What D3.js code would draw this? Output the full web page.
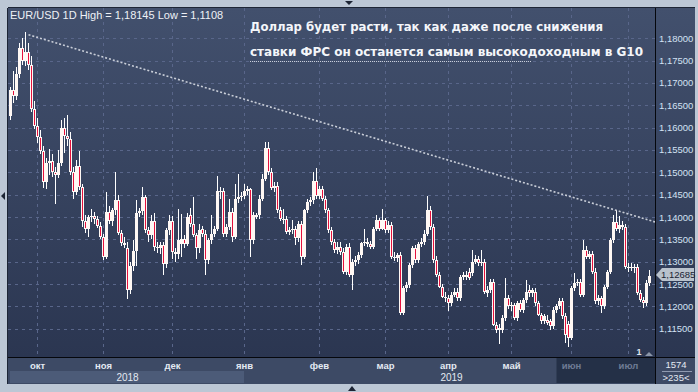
<!DOCTYPE html>
<html>
<head>
<meta charset="utf-8">
<script src="https://cdn.jsdelivr.net/npm/d3@7"></script>
<style>
  body { margin: 0; background: #bcc7d5; overflow: hidden; }
  svg { display: block; }
</style>
</head>
<body>
<div id="chart"></div>
<script>
/************************************ Data ***********************************/
// daily EUR/USD candles, [open, high, low, close]
var candles = [
[1.1626,1.1692,1.1618,1.1685],[1.1685,1.1726,1.1655,1.1670],[1.1670,1.1735,1.1662,1.1720],[1.1720,1.1790,1.1712,1.1778],
[1.1778,1.1800,1.1740,1.1750],[1.1750,1.18145,1.1738,1.1770],[1.1770,1.1790,1.1730,1.1741],[1.1741,1.1760,1.1636,1.1641],
[1.1641,1.1660,1.1596,1.1604],[1.1604,1.1622,1.1565,1.1578],[1.1578,1.1595,1.1540,1.1548],[1.1548,1.1560,1.1465,1.1478],
[1.1478,1.1532,1.1462,1.1520],[1.1520,1.1552,1.1495,1.1526],[1.1526,1.1540,1.1490,1.1500],[1.1500,1.1512,1.1430,1.1495],
[1.1495,1.1550,1.1488,1.1522],[1.1522,1.1618,1.1515,1.1600],[1.1600,1.1622,1.1544,1.1582],[1.1582,1.1628,1.1560,1.1574],
[1.1574,1.1590,1.1495,1.1500],[1.1500,1.1512,1.1440,1.1455],[1.1455,1.1528,1.1450,1.1515],[1.1515,1.1548,1.1460,1.1468],
[1.1468,1.1475,1.1378,1.1392],[1.1392,1.1405,1.1365,1.1374],[1.1374,1.1405,1.1355,1.1400],[1.1400,1.1418,1.1388,1.1403],
[1.1403,1.1412,1.1385,1.1396],[1.1396,1.1402,1.1375,1.1380],[1.1380,1.1388,1.1350,1.1355],[1.1355,1.1362,1.1303,1.1310],
[1.1310,1.1456,1.1305,1.1412],[1.1412,1.1425,1.1385,1.1390],[1.1390,1.1420,1.1380,1.1415],[1.1415,1.1500,1.1405,1.1437],
[1.1437,1.1450,1.1360,1.1365],[1.1365,1.1372,1.1335,1.1342],[1.1342,1.1355,1.1330,1.1338],[1.1330,1.1345,1.1216,1.1237],
[1.1237,1.1300,1.1228,1.1290],[1.1290,1.1348,1.1280,1.1325],[1.1325,1.1437,1.1290,1.1410],[1.1410,1.1420,1.1400,1.1413],
[1.1413,1.1467,1.1405,1.1444],[1.1444,1.1450,1.1365,1.1370],[1.1370,1.1378,1.1345,1.1360],[1.1360,1.1405,1.1350,1.1392],
[1.1392,1.1410,1.1325,1.1333],[1.1333,1.1345,1.1320,1.1330],[1.1330,1.1345,1.1318,1.1337],[1.1337,1.1345,1.1270,1.1294],
[1.1294,1.1375,1.1285,1.1370],[1.1370,1.1404,1.1360,1.1392],[1.1392,1.1402,1.1307,1.1322],[1.1322,1.1330,1.1300,1.1318],
[1.1318,1.1418,1.1305,1.1348],[1.1340,1.1407,1.1311,1.1350],[1.1350,1.1360,1.1330,1.1340],[1.1340,1.1408,1.1335,1.1400],
[1.1405,1.1420,1.1378,1.1385],[1.1385,1.1444,1.1355,1.1359],[1.1359,1.1365,1.1307,1.1330],[1.1330,1.1385,1.1320,1.1370],
[1.1374,1.1380,1.1355,1.1363],[1.1363,1.1370,1.1270,1.1304],[1.1304,1.1352,1.1295,1.1348],[1.1348,1.1404,1.1340,1.1363],
[1.1363,1.1380,1.1355,1.1374],[1.1374,1.1491,1.1368,1.1459],[1.1455,1.1468,1.1440,1.1459],[1.1459,1.1466,1.1355,1.1362],
[1.1362,1.1385,1.1355,1.1378],[1.1378,1.1440,1.1370,1.1411],[1.1411,1.1420,1.1344,1.1355],[1.1355,1.1474,1.1350,1.1440],
[1.1440,1.1496,1.1432,1.1444],[1.1444,1.1455,1.1435,1.1448],[1.1448,1.1474,1.1440,1.1459],[1.1459,1.1470,1.1450,1.1462],
[1.1462,1.1466,1.1311,1.1348],[1.1348,1.1412,1.1340,1.1404],[1.1404,1.1410,1.1395,1.1400],[1.1404,1.1450,1.1395,1.1440],
[1.1440,1.1496,1.1435,1.1485],[1.1485,1.1567,1.1480,1.1555],[1.1555,1.1569,1.1495,1.1500],[1.1500,1.1510,1.1460,1.1466],
[1.1466,1.1478,1.1455,1.1470],[1.1470,1.1478,1.1410,1.1415],[1.1415,1.1422,1.1390,1.1396],[1.1393,1.1418,1.1385,1.1396],
[1.1396,1.1402,1.1362,1.1367],[1.1367,1.1378,1.1360,1.1370],[1.1370,1.1393,1.1362,1.1374],[1.1374,1.1380,1.1337,1.1352],
[1.1352,1.1392,1.1345,1.1385],[1.1385,1.1392,1.1292,1.1311],[1.1311,1.1418,1.1305,1.1415],[1.1415,1.1440,1.1410,1.1433],
[1.1433,1.1445,1.1425,1.1437],[1.1437,1.1500,1.1430,1.1481],[1.1481,1.1509,1.1440,1.1448],[1.1448,1.1470,1.1440,1.1463],
[1.1463,1.1470,1.1435,1.1441],[1.1441,1.1448,1.1410,1.1415],[1.1415,1.1420,1.1365,1.1370],[1.1370,1.1378,1.1338,1.1344],
[1.1344,1.1350,1.1320,1.1326],[1.1326,1.1345,1.1318,1.1333],[1.1333,1.1345,1.1315,1.1322],[1.1322,1.1330,1.1272,1.1278],
[1.1278,1.1340,1.1270,1.1333],[1.1333,1.1341,1.1265,1.1270],[1.1270,1.1305,1.1237,1.1300],[1.1300,1.1312,1.1290,1.1304],
[1.1304,1.1322,1.1295,1.1315],[1.1315,1.1345,1.1308,1.1341],[1.1341,1.1374,1.1335,1.1344],[1.1344,1.1352,1.1332,1.1340],
[1.1340,1.1346,1.1328,1.1333],[1.1333,1.1378,1.1328,1.1374],[1.1374,1.1404,1.1368,1.1393],[1.1393,1.1398,1.1368,1.1374],
[1.1374,1.1418,1.1370,1.1393],[1.1393,1.1398,1.1365,1.1372],[1.1372,1.1390,1.1365,1.1381],[1.1381,1.1388,1.1305,1.1311],
[1.1311,1.1322,1.1302,1.1309],[1.1309,1.1320,1.1300,1.1315],[1.1315,1.1322,1.1181,1.1185],[1.1185,1.1245,1.1180,1.1240],
[1.1240,1.1255,1.1232,1.1248],[1.1248,1.1298,1.1240,1.1292],[1.1292,1.1335,1.1285,1.1330],[1.1330,1.1338,1.1298,1.1304],
[1.1304,1.1345,1.1298,1.1340],[1.1340,1.1352,1.1332,1.1344],[1.1344,1.1370,1.1338,1.1363],[1.1363,1.1448,1.1358,1.1415],
[1.1415,1.1425,1.1372,1.1378],[1.1378,1.1385,1.1298,1.1304],[1.1304,1.1312,1.1265,1.1270],[1.1270,1.1278,1.1240,1.1244],
[1.1244,1.1250,1.1218,1.1222],[1.1222,1.1232,1.1210,1.1218],[1.1218,1.1225,1.1189,1.1207],[1.1207,1.1232,1.1200,1.1226],
[1.1226,1.1240,1.1220,1.1233],[1.1233,1.1240,1.1212,1.1218],[1.1218,1.1270,1.1212,1.1266],[1.1266,1.1278,1.1260,1.1270],
[1.1266,1.1280,1.1258,1.1270],[1.1278,1.1285,1.1258,1.1263],[1.1274,1.1326,1.1268,1.1300],[1.1300,1.1315,1.1295,1.1307],
[1.1307,1.1312,1.1290,1.1296],[1.1296,1.1326,1.1290,1.1300],[1.1300,1.1306,1.1228,1.1233],[1.1230,1.1245,1.1222,1.1237],
[1.1237,1.1262,1.1230,1.1255],[1.1255,1.1262,1.1155,1.1159],[1.1159,1.1165,1.1140,1.1148],[1.1148,1.1160,1.1115,1.1152],
[1.1148,1.1180,1.1140,1.1174],[1.1174,1.1263,1.1168,1.1218],[1.1218,1.1225,1.1195,1.1200],[1.1200,1.1210,1.1190,1.1203],
[1.1203,1.1208,1.1170,1.1174],[1.1174,1.1212,1.1168,1.1207],[1.1207,1.1214,1.1188,1.1192],[1.1192,1.1218,1.1185,1.1215],
[1.1215,1.1260,1.1208,1.1233],[1.1237,1.1248,1.1222,1.1229],[1.1229,1.1242,1.1222,1.1237],[1.1233,1.1240,1.1200,1.1207],
[1.1207,1.1212,1.1178,1.1181],[1.1181,1.1186,1.1160,1.1167],[1.1167,1.1182,1.1160,1.1178],[1.1170,1.1180,1.1158,1.1163],
[1.1167,1.1172,1.1148,1.1155],[1.1155,1.1198,1.1150,1.1192],[1.1192,1.1205,1.1185,1.1200],[1.1200,1.1218,1.1195,1.1211],
[1.1211,1.1218,1.1172,1.1178],[1.1178,1.1185,1.1118,1.1137],[1.1160,1.1168,1.1108,1.1130],[1.1130,1.1245,1.1125,1.1240],
[1.1240,1.1274,1.1235,1.1252],[1.1252,1.1262,1.1245,1.1255],[1.1255,1.1262,1.1220,1.1226],[1.1226,1.1348,1.1220,1.1326],
[1.1326,1.1335,1.1305,1.1311],[1.1311,1.1325,1.1305,1.1318],[1.1318,1.1325,1.1272,1.1278],[1.1278,1.1285,1.1205,1.1211],
[1.1211,1.1225,1.1203,1.1218],[1.1218,1.1224,1.1185,1.1200],[1.1200,1.1248,1.1195,1.1244],[1.1244,1.1282,1.1238,1.1278],
[1.1278,1.1352,1.1272,1.1348],[1.1348,1.1404,1.1342,1.1389],[1.1389,1.1415,1.1368,1.1374],[1.1374,1.1402,1.1365,1.1381],
[1.1381,1.1392,1.1372,1.1377],[1.1377,1.1385,1.1283,1.1289],[1.1285,1.1298,1.1278,1.1289],[1.1289,1.1296,1.1280,1.1285],
[1.1285,1.1295,1.1275,1.1289],[1.1289,1.1295,1.1225,1.1229],[1.1229,1.1236,1.1210,1.1215],[1.1215,1.1222,1.1197,1.1207],
[1.1207,1.1258,1.1200,1.1252],[1.1252,1.1281,1.1245,1.12685]
];

// month labels and the candle index where each month starts
var months = ["окт", "ноя", "дек", "янв", "фев", "мар", "апр", "май", "июн", "июл"];
var monthIdx = [9, 31, 54, 78, 103, 125, 146, 167, 187, 206];
var years = ["2018", "2019"];
var yearCenter = [39.3, 147];   // candle index under each year label
var year2018Span = [0.3, 78];

var yTicks = [1.115, 1.12, 1.125, 1.13, 1.135, 1.14, 1.145, 1.15, 1.155, 1.16, 1.165, 1.17, 1.175, 1.18];

// dotted resistance line: [candle index, price]
var trend = [[6, 1.1808], [215, 1.1389]];

var lastPrice = 1.12685;

/******************************* Layout **************************/
var W = 698, H = 392;
var plot = {left: 8, top: 8, right: 655, bottom: 357};
var panelRight = 695, stripBottom = 384;

var svg = d3.select("#chart").append("svg")
    .attr("width", W)
    .attr("height", H)
    .style("font-family", "'Liberation Sans', Arial, sans-serif");

var defs = svg.append("defs");
var grad = defs.append("linearGradient")
    .attr("id", "bg").attr("x1", 0).attr("y1", 0).attr("x2", 0).attr("y2", 1);
grad.append("stop").attr("offset", "0%").attr("stop-color", "#42506d");
grad.append("stop").attr("offset", "100%").attr("stop-color", "#2b3651");

// outer frame
svg.append("rect").attr("width", W).attr("height", H).attr("fill", "#bcc7d5");

// plot + right price panel background
svg.append("rect")
    .attr("x", plot.left).attr("y", plot.top)
    .attr("width", panelRight - plot.left).attr("height", plot.bottom - plot.top)
    .attr("fill", "url(#bg)");

// time axis strip
svg.append("rect")
    .attr("x", plot.left).attr("y", plot.bottom)
    .attr("width", panelRight - plot.left).attr("height", stripBottom - plot.bottom)
    .attr("fill", "#3d4a65");

var x = d3.scaleBand()
    .domain(d3.range(candles.length))
    .range([plot.left + 0.5, plot.left + 0.5 + 3 * candles.length]);

// pixel-snapped centre of candle i
var xc = function(i) { return Math.round(x(0) + x.step() * i) + 1.5; };

var y = d3.scaleLinear()
    .domain([1.115, 1.18])
    .range([328.7, 38.3]);

var g = svg.append("g").attr("shape-rendering", "crispEdges");

// horizontal grid
g.append("g").selectAll("line")
    .data(yTicks)
    .enter().append("line")
    .attr("x1", plot.left).attr("x2", plot.right)
    .attr("y1", function(d) { return Math.round(y(d)) + 0.5; })
    .attr("y2", function(d) { return Math.round(y(d)) + 0.5; })
    .attr("stroke", "#59668a").attr("stroke-dasharray", "3,4");

// vertical grid at month starts
g.append("g").selectAll("line")
    .data(monthIdx)
    .enter().append("line")
    .attr("x1", function(d) { return Math.floor(xc(d)) + 0.5; })
    .attr("x2", function(d) { return Math.floor(xc(d)) + 0.5; })
    .attr("y1", plot.top).attr("y2", plot.bottom)
    .attr("stroke", "#59668a").attr("stroke-dasharray", "3,4");

/******************************* Candles **************************/
var cg = g.append("g").selectAll("g")
    .data(candles)
    .enter().append("g");

// wicks
cg.append("rect")
    .attr("x", function(d, i) { return Math.floor(xc(i)); })
    .attr("width", 1)
    .attr("y", function(d) { return Math.round(y(d[1])); })
    .attr("height", function(d) { return Math.max(1, Math.round(y(d[2])) - Math.round(y(d[1]))); })
    .attr("fill", "#ffffff");

// bodies: white outline, red core for falling days
cg.append("rect")
    .attr("x", function(d, i) { return Math.floor(xc(i)) - 1; })
    .attr("width", 3)
    .attr("y", function(d) { return Math.round(y(Math.max(d[0], d[3]))); })
    .attr("height", function(d) { return Math.max(1, Math.round(y(Math.min(d[0], d[3]))) - Math.round(y(Math.max(d[0], d[3])))); })
    .attr("fill", "#fff8f4");

cg.filter(function(d) { return d[3] < d[0]; })
  .append("rect")
    .attr("x", function(d) { return Math.floor(xc(candles.indexOf(d))); })
    .attr("width", 1)
    .attr("y", function(d) { return Math.round(y(d[0])) + 1; })
    .attr("height", function(d) { return Math.max(0, Math.round(y(d[3])) - Math.round(y(d[0])) - 2); })
    .attr("fill", "#e5103c");

// dotted trend line
svg.append("line")
    .attr("x1", xc(trend[0][0])).attr("y1", y(trend[0][1]))
    .attr("x2", Math.min(plot.right, xc(trend[1][0]))).attr("y2", y(trend[1][1]))
    .attr("stroke", "#c9ced8").attr("stroke-width", 1.6)
    .attr("stroke-dasharray", "2,2");

/******************************* Borders **************************/
svg.append("line").attr("x1", plot.left - 0.5).attr("x2", plot.left - 0.5)
    .attr("y1", plot.top).attr("y2", stripBottom).attr("stroke", "#1d2535");
svg.append("line").attr("x1", plot.left).attr("x2", panelRight)
    .attr("y1", plot.top - 0.5).attr("y2", plot.top - 0.5).attr("stroke", "#1d2535");
svg.append("line").attr("x1", plot.right + 0.5).attr("x2", plot.right + 0.5)
    .attr("y1", plot.top).attr("y2", stripBottom).attr("stroke", "#05070c");
svg.append("line").attr("x1", plot.left).attr("x2", panelRight)
    .attr("y1", plot.bottom + 0.5).attr("y2", plot.bottom + 0.5).attr("stroke", "#05070c");

/******************************* Price axis **************************/
var fmt = function(v) { return d3.format(".5f")(v).replace(".", ","); };

svg.append("g").selectAll("text")
    .data(yTicks)
    .enter().append("text")
    .attr("x", 659)
    .attr("y", function(d) { return y(d) + 3.5; })
    .attr("fill", "#d3e2f4")
    .style("font-size", "9.5px")
    .text(fmt);

// last price marker, drawn over the tick label below it
var ly = Math.round(y(lastPrice)) - 1;
svg.append("path")
    .attr("d", "M656," + ly + "L662," + (ly - 7) + "L694," + (ly - 7) + "L694," + (ly + 6) + "L662," + (ly + 6) + "Z")
    .attr("fill", "#b9c2cc");
svg.append("text")
    .attr("x", 661).attr("y", ly + 3)
    .attr("fill", "#1b2333")
    .style("font-size", "9.5px")
    .text(fmt(lastPrice));

/******************************* Time axis **************************/
// year band for 2018 and dimmed tail of the range
svg.append("rect")
    .attr("x", xc(year2018Span[0]) - 0.5).attr("y", 371)
    .attr("width", xc(year2018Span[1]) - xc(year2018Span[0])).attr("height", 12)
    .attr("fill", "#4c5b78");
svg.append("rect")
    .attr("x", xc(monthIdx[8]) - 15).attr("y", plot.bottom + 1)
    .attr("width", plot.right - xc(monthIdx[8]) + 15).attr("height", stripBottom - plot.bottom - 2)
    .attr("fill", "#243047");

svg.append("g").selectAll("text")
    .data(months)
    .enter().append("text")
    .attr("x", function(d, i) { return xc(monthIdx[i]); })
    .attr("y", 369)
    .attr("text-anchor", "middle")
    .attr("fill", function(d, i) { return i >= 8 ? "#6f7c95" : "#e3e9f2"; })
    .style("font-size", "9.5px")
    .style("font-weight", "bold")
    .text(function(d) { return d; });

svg.append("g").selectAll("text")
    .data(years)
    .enter().append("text")
    .attr("x", function(d, i) { return xc(yearCenter[i]); })
    .attr("y", 380.5)
    .attr("text-anchor", "middle")
    .attr("fill", "#e3e9f2")
    .style("font-size", "10px")
    .text(function(d) { return d; });

svg.append("text").attr("x", 639).attr("y", 355).attr("text-anchor", "middle")
    .attr("fill", "#dfe5ee").style("font-size", "9px").style("font-weight", "bold").text("1");
svg.append("path").attr("d", "M645,356L649,352L653,356Z").attr("fill", "#8a95a8");

// counter box in the corner
svg.append("text").attr("x", 676).attr("y", 368).attr("text-anchor", "middle")
    .attr("fill", "#e3e9f2").style("font-size", "9.5px").text("1574");
svg.append("line").attr("x1", 662).attr("x2", 692).attr("y1", 371.5).attr("y2", 371.5)
    .attr("stroke", "#8f9ab0");
svg.append("text").attr("x", 676).attr("y", 381).attr("text-anchor", "middle")
    .attr("fill", "#e3e9f2").style("font-size", "9.5px").text(">235<");

// small frame arrows
svg.append("path").attr("d", "M1,196L5,192L5,200Z").attr("fill", "#1d2535");
svg.append("path").attr("d", "M345,1L353,1L349,5Z").attr("fill", "#1d2535");
svg.append("path").attr("d", "M348,391L356,391L352,386Z").attr("fill", "#1d2535");

/******************************* Titles **************************/
svg.append("text")
    .attr("x", 10).attr("y", 18.5)
    .attr("fill", "#eef1f6")
    .style("font-size", "11px")
    .text("EUR/USD 1D High = 1,18145 Low = 1,1108");

var note = ["Доллар будет расти, так как даже после снижения",
            "ставки ФРС он останется самым высокодоходным в G10"];
var noteLen = [353, 393];
svg.append("g").selectAll("text")
    .data(note)
    .enter().append("text")
    .attr("x", 250)
    .attr("y", function(d, i) { return 31 + i * 24.5; })
    .attr("textLength", function(d, i) { return noteLen[i]; })
    .attr("lengthAdjust", "spacingAndGlyphs")
    .attr("fill", "#f4f6fa")
    .style("font-family", "'DejaVu Sans', sans-serif")
    .style("font-size", "12px")
    .style("font-weight", "bold")
    .text(function(d) { return d; });

svg.append("line")
    .attr("x1", 250).attr("x2", 532).attr("y1", 61.5).attr("y2", 61.5)
    .attr("stroke", "#c9ced8").attr("stroke-dasharray", "1,1");
</script>
</body>
</html>
